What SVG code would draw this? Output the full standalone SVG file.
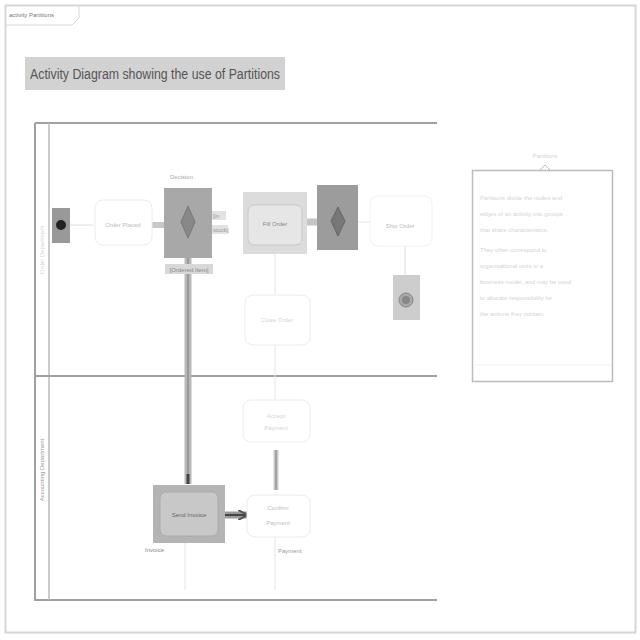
<svg xmlns="http://www.w3.org/2000/svg" width="640" height="640" viewBox="0 0 640 640">
<style>
text{font-family:"Liberation Sans",Arial,sans-serif;}
.faint{fill:none;stroke:#e6e6e6;stroke-width:1;}
.ftxt{fill:#d4d4d4;font-size:6px;}
.dtxt{fill:#666;font-size:6px;}
.part{stroke:#a0a0a0;stroke-width:2;fill:none;}
.act{fill:#fff;stroke:#ececec;stroke-width:1;}
</style>
<defs>
<marker id="ah" viewBox="0 0 10 10" refX="9" refY="5" markerWidth="5" markerHeight="5" orient="auto"><path d="M0,0 L10,5 L0,10" fill="none" stroke="#555" stroke-width="2"/></marker>
</defs>
<rect width="640" height="640" fill="#fff"/>
<g id="frame">
<rect x="5.5" y="5.5" width="630" height="627" fill="none" stroke="#d6d6d6" stroke-width="2"/>
<path d="M5.5,25 H72 L79,18 V5.5" fill="none" stroke="#d6d6d6" stroke-width="1"/>
<text x="9" y="17" style="font-size:6px;fill:#777">activity Partitions</text>
</g>
<g id="title">
<rect x="25" y="57" width="260" height="33" fill="#d2d2d2"/>
<text x="30" y="79" textLength="250" lengthAdjust="spacingAndGlyphs" style="font-size:14px;fill:#555">Activity Diagram showing the use of Partitions</text>
</g>
<g id="partitions">
<path class="part" d="M35,123 V600 H437"/>
<path class="part" d="M35,123 H437"/>
<path d="M49,123 V600" stroke="#bbb" stroke-width="1.5"/>
<path class="part" d="M35,376 H437"/>
<text transform="translate(44,250) rotate(-90)" text-anchor="middle" class="ftxt">Order Department</text>
<text transform="translate(44,470) rotate(-90)" text-anchor="middle" style="font-size:6px;fill:#999">Accounting Department</text>
</g>
<g id="connectors">
<path d="M70,225 H93" stroke="#e0e0e0" stroke-width="1"/>
<path d="M152,225 H172" stroke="#c8c8c8" stroke-width="6"/>
<path d="M164,225 H172" stroke="#333" stroke-width="2"/>
<path d="M188,258 V484" stroke="#b8b8b8" stroke-width="7"/>
<path d="M188,258 V484" stroke="#999" stroke-width="2"/>
<path d="M188,474 V484" stroke="#444" stroke-width="3"/>
<path d="M307,222 H327" stroke="#c4c4c4" stroke-width="7"/>
<path d="M318,222 H327" stroke="#333" stroke-width="2"/>
<path d="M225,515 H250" stroke="#999" stroke-width="7"/>
<path d="M225,515 H247" stroke="#444" stroke-width="2" marker-end="url(#ah)"/>
<path d="M276,450 V490" stroke="#c8c8c8" stroke-width="5"/>
<path d="M276,450 V490" stroke="#999" stroke-width="1.5"/>
<path d="M348,222 H370" class="faint"/>
<path d="M275,253 V295" class="faint"/>
<path d="M275,345 V400" class="faint"/>
<path d="M405,245 V285" stroke="#ddd" stroke-width="1"/>
<path d="M275,535 V590" class="faint"/>
<path d="M185,543 V590" class="faint"/>
</g>
<g id="initial">
<rect x="52" y="208" width="18" height="35" fill="#999"/>
<circle cx="61" cy="225" r="5" fill="#222"/>
</g>
<g id="receive">
<rect class="act" x="95" y="200" width="57" height="45" rx="8"/>
<text x="123" y="227" text-anchor="middle" class="ftxt" style="fill:#bbb">Order Placed</text>
</g>
<g id="decision">
<rect x="164" y="188" width="48" height="70" fill="#a8a8a8"/>
<path d="M188,206 L195,222 L188,238 L181,222 Z" fill="#888" stroke="#777"/>
<text x="170" y="179" class="ftxt" style="fill:#aaa">Decision</text>
<rect x="212" y="211" width="14" height="9" fill="#e2e2e2"/>
<text x="213" y="218" class="ftxt" style="fill:#999">[in</text>
<rect x="212" y="225" width="16" height="9" fill="#e2e2e2"/>
<text x="213" y="232" class="ftxt" style="fill:#999">stock]</text>
<rect x="165" y="264" width="48" height="10" fill="#d8d8d8"/>
<text x="189" y="272" text-anchor="middle" class="dtxt" style="fill:#888">[Ordered Item]</text>
</g>
<g id="fill">
<rect x="243" y="192" width="64" height="62" fill="#dcdcdc"/>
<rect x="248" y="205" width="54" height="40" rx="6" fill="#e6e6e6" stroke="#c8c8c8"/>
<text x="275" y="226" text-anchor="middle" class="dtxt" style="fill:#888">Fill Order</text>
</g>
<g id="merge">
<rect x="317" y="185" width="41" height="65" fill="#9c9c9c"/>
<path d="M338,207 L345,221 L338,236 L331,221 Z" fill="#777" stroke="#666"/>
</g>
<g id="ship">
<rect class="act" x="370" y="196" width="62" height="50" rx="8" style="stroke:#f2f2f2"/>
<text x="400" y="228" text-anchor="middle" class="ftxt" style="fill:#bbb">Ship Order</text>
</g>
<g id="final">
<rect x="393" y="275" width="27" height="45" fill="#cdcdcd"/>
<circle cx="406" cy="300" r="7" fill="#aaa" stroke="#888"/>
<circle cx="406" cy="300" r="4" fill="#888"/>
</g>
<g id="close">
<rect class="act" x="245" y="295" width="65" height="50" rx="8"/>
<text x="277" y="322" text-anchor="middle" class="ftxt">Close Order</text>
</g>
<g id="accept">
<rect class="act" x="243" y="400" width="67" height="42" rx="8"/>
<text x="276" y="418" text-anchor="middle" class="ftxt">Accept</text>
<text x="276" y="430" text-anchor="middle" class="ftxt">Payment</text>
</g>
<g id="invoice">
<rect x="153" y="485" width="72" height="58" fill="#b4b4b4"/>
<rect x="160" y="492" width="58" height="44" rx="6" fill="#c8c8c8" stroke="#aaa"/>
<text x="189" y="517" text-anchor="middle" class="dtxt" style="fill:#666">Send Invoice</text>
<text x="145" y="552" class="dtxt" style="fill:#888">Invoice</text>
</g>
<g id="payment">
<rect class="act" x="247" y="495" width="63" height="42" rx="8"/>
<text x="278" y="510" text-anchor="middle" class="ftxt" style="fill:#bbb">Confirm</text>
<text x="278" y="525" text-anchor="middle" class="ftxt" style="fill:#bbb">Payment</text>
<text x="278" y="553" class="dtxt" style="fill:#999">Payment</text>
</g>
<g id="note">
<text x="545" y="158" text-anchor="middle" class="ftxt">Partitions</text>
<rect x="472.5" y="170.5" width="140" height="211" fill="#fff" stroke="#bbb" stroke-width="1.5"/>
<path d="M540,170 L545,165 L550,170" fill="none" stroke="#bbb"/>
<text x="480" y="200" class="ftxt">Partitions divide the nodes and</text>
<text x="480" y="216" class="ftxt">edges of an activity into groups</text>
<text x="480" y="232" class="ftxt">that share characteristics.</text>
<text x="480" y="252" class="ftxt">They often correspond to</text>
<text x="480" y="268" class="ftxt">organisational units in a</text>
<text x="480" y="284" class="ftxt">business model, and may be used</text>
<text x="480" y="300" class="ftxt">to allocate responsibility for</text>
<text x="480" y="316" class="ftxt">the actions they contain.</text>
<path d="M474,365 H611" stroke="#f0f0f0" stroke-width="1"/>
</g>
</svg>
